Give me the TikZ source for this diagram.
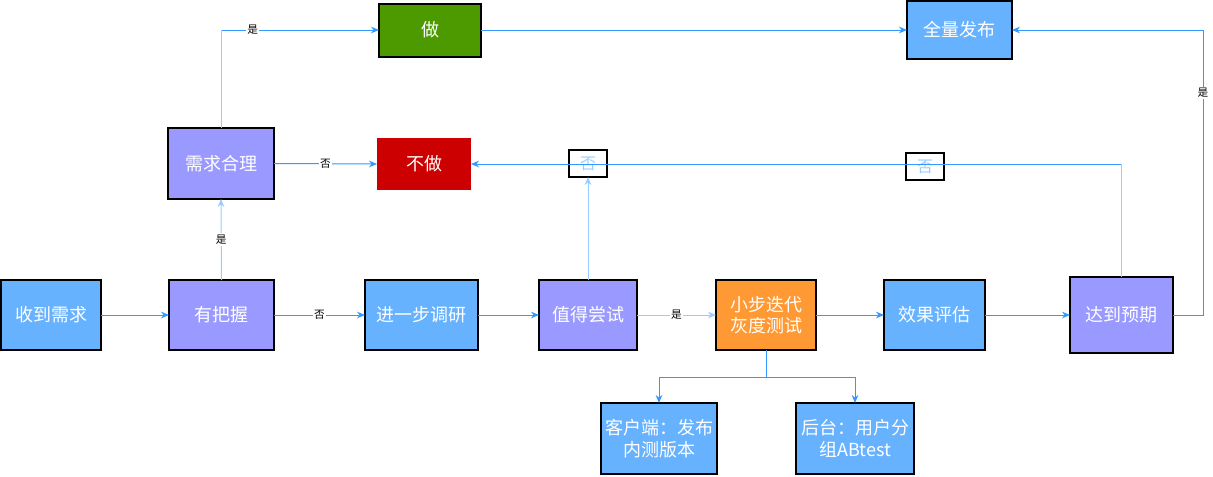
\documentclass[tikz,border=0pt]{standalone}
\usepackage{fontspec}
\setmainfont{Noto Sans CJK SC}
\usetikzlibrary{arrows.meta}
\definecolor{nblue}{HTML}{66B2FF}
\definecolor{npurple}{HTML}{9999FF}
\definecolor{norange}{HTML}{FF9933}
\definecolor{ngreen}{HTML}{4D9900}
\definecolor{nred}{HTML}{CC0000}
\definecolor{eblue}{HTML}{3399FF}
\definecolor{elight}{HTML}{99CCFF}
\begin{document}
\begin{tikzpicture}[x=0.75pt,y=-0.75pt,
  box/.style={draw=black, line width=1.5pt, text=white, font=\fontsize{13.5}{16}\selectfont,
    inner sep=0pt, outer sep=0pt, align=center, minimum height=52.5pt},
  nobox/.style={draw=black, line width=1.5pt, text=elight, font=\fontsize{12}{14}\selectfont,
    inner sep=0pt, outer sep=0pt, minimum width=28.5pt, minimum height=20.25pt},
  edge/.style={draw=eblue, line width=0.75pt, -{Stealth[length=6pt,width=5pt]}},
  lightedge/.style={edge, draw=elight},
  lbl/.style={fill=white, font=\fontsize{8}{9}\selectfont, inner sep=1pt, text=black}]
\useasboundingbox (0,0) rectangle (1213,476);
% nodes
\node[box, fill=nblue, minimum width=75pt] (recv) at (51,315) {收到需求};
\node[box, fill=npurple, minimum width=78.75pt] (ok) at (221.5,315) {有把握};
\node[box, fill=nblue, minimum width=84.75pt] (research) at (421.5,315) {进一步调研};
\node[box, fill=npurple, minimum width=73.5pt] (try) at (588,315) {值得尝试};
\node[box, fill=norange, minimum width=75pt] (iter) at (766,315) {小步迭代\\灰度测试};
\node[box, fill=nblue, minimum width=75.75pt] (eval) at (934.5,315) {效果评估};
\node[box, fill=npurple, minimum width=77.25pt, minimum height=57pt] (reach) at (1121.5,315) {达到预期};
\node[box, fill=npurple, minimum width=79.5pt, minimum height=53.25pt] (reason) at (221,163.5) {需求合理};
\node[box, draw=none, fill=nred, minimum width=70.5pt, minimum height=39pt] (nodo) at (424,164) {不做};
\node[box, fill=ngreen, minimum width=76.5pt, minimum height=39.75pt] (do) at (430,30) {做};
\node[box, fill=nblue, minimum width=78.75pt, minimum height=43.5pt] (full) at (959.5,30) {全量发布};
\node[box, fill=nblue, minimum width=87pt, minimum height=53.25pt] (client) at (659,438.5) {客户端：发布\\内测版本};
\node[box, fill=nblue, minimum width=88.5pt, minimum height=53.25pt] (backend) at (855,438.5) {后台：用户分\\组ABtest};
\node[nobox] (no1) at (588,163.5) {否};
\node[nobox] (no2) at (925,166.5) {否};
% helper coordinates
\coordinate (split) at (766,377);
\coordinate (rr) at (1203,315);
\coordinate (rt) at (1203,30);
% edges
\draw[edge] (recv.east) -- (ok.west);
\draw[edge] (ok.east) -- node[lbl]{否} (research.west);
\draw[lightedge] (ok.north) -- node[lbl]{是} (reason.south);
\draw[edge] (reason.east) -- node[lbl]{否} (nodo.west);
\draw[edge] (reason.north) -- (reason.north |- do.west) -- node[lbl, pos=0.2]{是} (do.west);
\draw[draw=elight, line width=0.75pt] (reason.north) -- (reason.north |- do.west);
\draw[edge] (do.east) -- (full.west);
\draw[edge] (research.east) -- (try.west);
\draw[lightedge] (try.east) -- node[lbl]{是} (iter.west);
\draw[lightedge] (try.north) -- (no1.south);
\draw[edge] (iter.east) -- (eval.west);
\draw[edge] (eval.east) -- (reach.west);
\draw[edge] (reach.north) -- (reach.north |- nodo.east) -- (nodo.east);
\draw[draw=elight, line width=0.75pt] (reach.north) -- (reach.north |- nodo.east);
\draw[edge] (reach.east) -- (rr) -- node[lbl, pos=0.78]{是} (rt) -- (full.east);
\draw[edge] (iter.south) -- (split) -| (client.north);
\draw[edge] (split) -| (backend.north);
\end{tikzpicture}
\end{document}
